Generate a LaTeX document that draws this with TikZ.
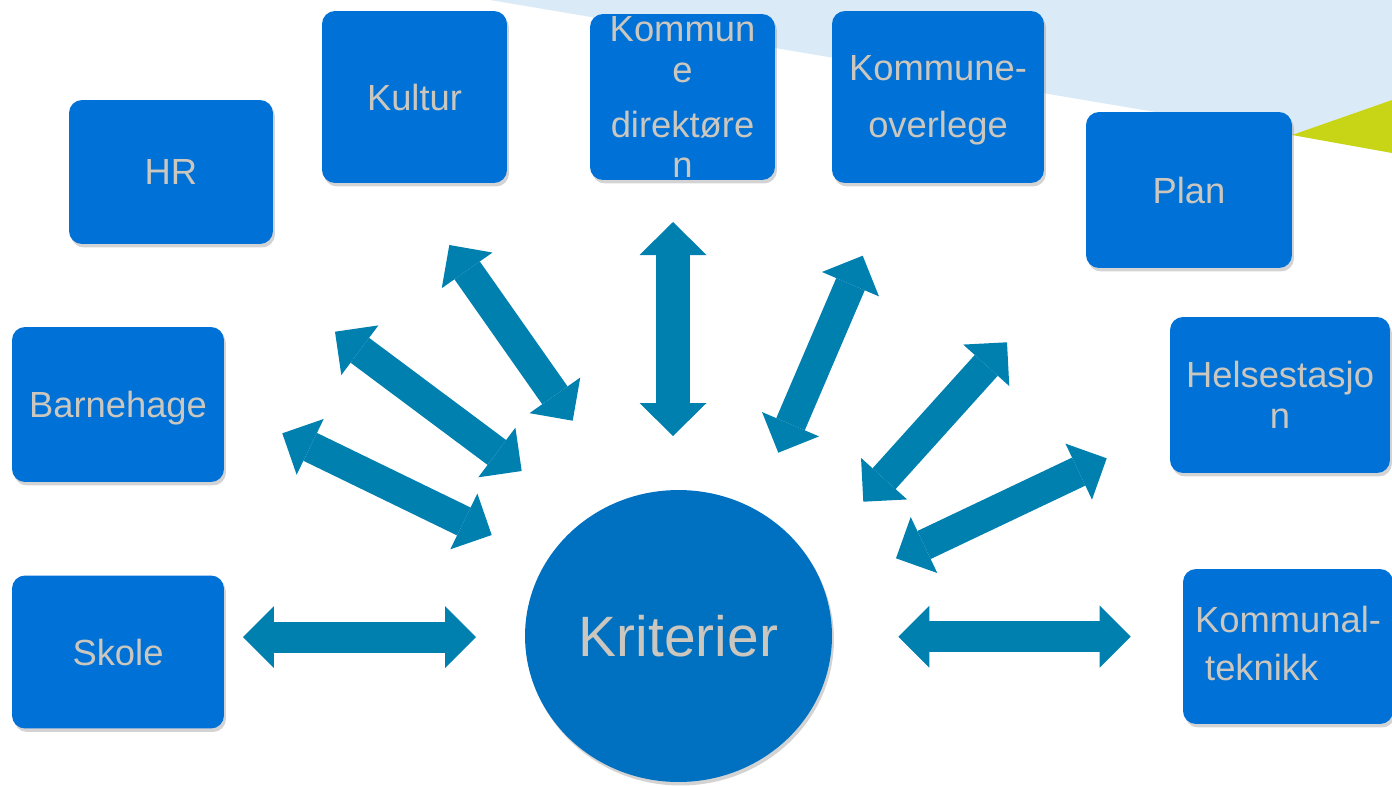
\documentclass[tikz,border=0pt]{standalone}
\usepackage{fontspec}
\setmainfont{Liberation Sans}
\usetikzlibrary{arrows.meta,shapes.geometric,shadows}

\definecolor{boxblue}{HTML}{0071D6}
\definecolor{ringblue}{HTML}{0070C0}
\definecolor{linkblue}{HTML}{0080AE}
\definecolor{txtgrey}{HTML}{CBC7BF}
\definecolor{skyblue}{HTML}{DAEAF7}
\definecolor{leafgreen}{HTML}{C8D416}

\tikzset{
  unit/.style={fill=boxblue, rounded corners=0.26cm, text=txtgrey, align=center,
    inner sep=0pt, font=\fontsize{20.7}{23.3}\selectfont,
    drop shadow={shadow xshift=0.04cm, shadow yshift=-0.07cm, opacity=0.35}},
  link/.style={draw=linkblue, line width=0.62cm, {Triangle[width=1.24cm,length=0.62cm,line width=0pt]}-{Triangle[width=1.24cm,length=0.62cm,line width=0pt]}},
  biglink/.style={draw=linkblue, line width=0.69cm, {Triangle[width=1.34cm,length=0.66cm,line width=0pt]}-{Triangle[width=1.34cm,length=0.66cm,line width=0pt]}},
}

\begin{document}
\begin{tikzpicture}[x=0.02cm, y=-0.02cm]
    \useasboundingbox (0,0) rectangle (1392,785);

    % background
    \fill[skyblue] (490,0) -- (1292,135) -- (1392,100) -- (1392,0) -- cycle;
    \fill[leafgreen] (1292,135) -- (1392,100) -- (1392,153) -- cycle;

    % boxes
    \node[unit, minimum width=4.08cm, minimum height=2.88cm] (HR) at (171,172) {HR};
    \node[unit, minimum width=3.70cm, minimum height=3.44cm] (Kultur) at (414.5,97) {Kultur};
    \node[unit, minimum width=3.70cm, minimum height=3.32cm] (Dir) at (682.5,97) {Kommun\\e\\[8pt]direktøre\\n};
    \node[unit, minimum width=4.24cm, minimum height=3.44cm] (Overlege) at (938,97) {\raisebox{-2pt}[\height][\depth]{Kommune-}\\[9pt]\raisebox{-2pt}[\height][\depth]{overlege}};
    \node[unit, minimum width=4.12cm, minimum height=3.12cm] (Plan) at (1189,190) {Plan};
    \node[unit, minimum width=4.24cm, minimum height=3.10cm] (Barnehage) at (118,404.5) {\raisebox{-2pt}[\height][\depth]{Barnehage}};
    \node[unit, minimum width=4.40cm, minimum height=3.12cm] (Helse) at (1280,395) {Helsestasjo\\n};
    \node[unit, minimum width=4.24cm, minimum height=3.06cm] (Skole) at (118,652) {Skole};
    \node[unit, minimum width=4.20cm, minimum height=3.10cm, align=left] (Teknikk) at (1288,646.5) {\raisebox{1.5pt}[\height][\depth]{Kommunal-}\\[4pt]\raisebox{1.5pt}[\height][\depth]{~teknikk}};

    % centre
    \node[ellipse, fill=ringblue, text=txtgrey, inner sep=0pt,
          minimum width=6.14cm, minimum height=5.84cm,
          font=\fontsize{32.4}{36}\selectfont,
          drop shadow={shadow xshift=0.04cm, shadow yshift=-0.07cm, opacity=0.35}] (K) at (678.5,636) {Kriterier};

    % arrow ends
    \coordinate (l1) at (243,637);     \coordinate (l2) at (476,637);
    \coordinate (b1) at (282.3,433.3); \coordinate (b2) at (491.7,535);
    \coordinate (h1) at (335,331.7);   \coordinate (h2) at (521.7,471);
    \coordinate (k1) at (449.3,245);   \coordinate (k2) at (572.7,420.7);
    \coordinate (d1) at (673,222);     \coordinate (d2) at (673,436);
    \coordinate (o1) at (862.7,255.7); \coordinate (o2) at (778.3,452.7);
    \coordinate (p1) at (1007,342.3);  \coordinate (p2) at (863.3,501.7);
    \coordinate (s1) at (1106.7,458.3);\coordinate (s2) at (896,558.3);
    \coordinate (t1) at (898.3,636.7); \coordinate (t2) at (1130.7,636.7);

    \draw[link] (l1) -- (l2);
    \draw[link] (b1) -- (b2);
    \draw[link] (h1) -- (h2);
    \draw[link] (k1) -- (k2);
    \draw[biglink] (d1) -- (d2);
    \draw[link] (o1) -- (o2);
    \draw[link] (p1) -- (p2);
    \draw[link] (s1) -- (s2);
    \draw[link] (t1) -- (t2);

\end{tikzpicture}
\end{document}
